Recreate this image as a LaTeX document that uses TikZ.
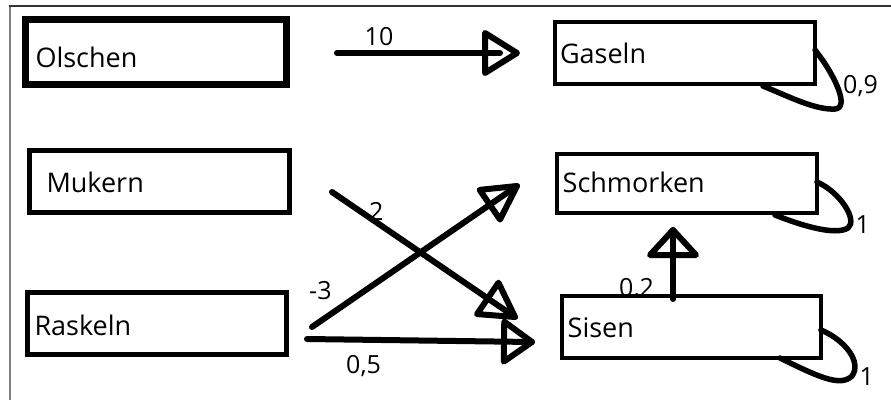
\documentclass[tikz,border=0pt]{standalone}
\usepackage{fontspec}
\setmainfont{Open Sans}
\usetikzlibrary{calc}
\newcommand{\tipTri}[4]{%
  \draw[conn] (#2) -- ($(#2)!#3!(#1)!#4!90:(#2)$) -- ($(#2)!#3!(#1)!#4!-90:(#2)$) -- cycle;}
\begin{document}
\begin{tikzpicture}[x=1pt,y=-1pt,
  box/.style={draw, fill=white, rectangle, outer sep=0pt, inner ysep=0pt, text depth=0pt,
    align=left, font=\fontsize{27}{30}\selectfont, anchor=center},
  lbl/.style={font=\fontsize{25}{28}\selectfont, anchor=base west, inner sep=0pt},
  conn/.style={line width=6pt, line cap=round, line join=round},
  selfloop/.style={line width=5.5pt, line cap=round, line join=round},
]
\useasboundingbox (0,0) rectangle (891,400);
% frame
\coordinate (fa) at (9.5,6);
\coordinate (fb) at (9.5,400);
\coordinate (fc) at (891,6);
\draw[color=gray, line width=2pt] (fa) -- (fb);
\draw[color=black!80, line width=1.5pt] ([xshift=-1pt]fa) -- (fc);

% labels
\node[lbl] (l10) at (364.5,45) {10};
\node[lbl] (l09) at (843,93) {0,9};
\node[lbl] (l2) at (369,220) {2};
\node[lbl] (lm3) at (309,299) {-3};
\node[lbl] (l05) at (346,373) {0,5};
\node[lbl] (l02) at (619,296) {0,2};
\node[lbl] (l1a) at (855.5,233) {1};
\node[lbl] (l1b) at (859.5,385) {1};

% boxes
\node[box, line width=7pt, minimum width=261pt, minimum height=65pt, text width=241pt, inner xsep=10pt, text height=30pt] (olschen) at (156,52) {Olschen};
\node[box, line width=4pt, minimum width=260pt, minimum height=62pt, text width=250pt, inner xsep=5pt, text height=20pt] (gaseln) at (685,53) {Gaseln};
\node[box, line width=5pt, minimum width=260pt, minimum height=62pt, text width=226pt, inner xsep=17pt, text height=21pt] (mukern) at (159.5,181.5) {Mukern};
\node[box, line width=5pt, minimum width=259pt, minimum height=62pt, text width=245pt, inner xsep=7pt, text height=23pt] (raskeln) at (157,323.5) {Raskeln};
\node[box, line width=4pt, minimum width=260pt, minimum height=59pt, text width=248.6pt, inner xsep=5.7pt, text height=17pt] (schmorken) at (687,183.5) {Schmorken};
\node[box, line width=4pt, minimum width=259pt, minimum height=62pt, text width=247.6pt, inner xsep=5.7pt, text height=20pt] (sisen) at (691.5,327) {Sisen};

% connector ends
\coordinate (a10s) at ($(olschen.east)+(50.5,1)$);
\coordinate (a10e) at ($(gaseln.west)+(-38,0)$);
\coordinate (a2s) at ($(mukern.east)+(42.5,10.5)$);
\coordinate (a2e) at ($(sisen.west)+(-47,-10)$);
\coordinate (am3s) at ($(raskeln.east)+(25.5,3.5)$);
\coordinate (am3e) at ($(schmorken.west)+(-40,2.5)$);
\coordinate (a05s) at ($(raskeln.east)+(20.5,15.5)$);
\coordinate (a05e) at ($(sisen.west)+(-30,15)$);
\coordinate (a02s) at ($(sisen.north)+(-18.5,3)$);
\coordinate (a02e) at ($(schmorken.south)+(-14,17)$);

% connectors
\draw[conn, shorten >=17pt] (a10s) -- (a10e);
\tipTri{a10s}{a10e}{32pt}{20pt}
\draw[conn] (a2s) -- (a2e);
\tipTri{a2s}{a2e}{33pt}{19pt}
\draw[conn] (am3s) -- (am3e);
\tipTri{am3s}{am3e}{33pt}{18pt}
\draw[conn] (a05s) -- (a05e);
\tipTri{a05s}{a05e}{28pt}{20pt}
\draw[conn] (a02s) -- (a02e);
\tipTri{a02s}{a02e}{25pt}{23pt}

% self loops
\draw[selfloop] ($(gaseln.east)+(0,-3)$) .. controls (835,75) and (850,108) .. (835,109)
  .. controls (815,110) and (790,97) .. ($(gaseln.south east)+(-52,2)$);
\draw[selfloop] ($(schmorken.east)+(0,-1.5)$) .. controls (840,192) and (858,220) .. (848,228)
  .. controls (835,236) and (800,225) .. ($(schmorken.south east)+(-42,2)$);
\draw[selfloop] ($(sisen.east)+(0,3)$) .. controls (845,340) and (862,362) .. (852,376)
  .. controls (840,388) and (815,375) .. ($(sisen.south east)+(-41,0)$);
\end{tikzpicture}
\end{document}
